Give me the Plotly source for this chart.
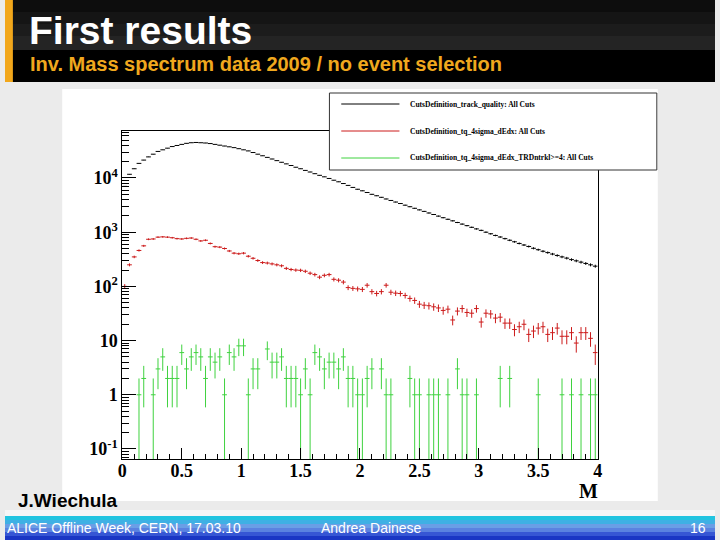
import plotly.graph_objects as go

# ---------------- data ----------------
bin_width = 0.04
bin_centers = [round(0.02 + 0.04 * i, 2) for i in range(100)]

track_quality = [
    7000, 11700, 14800, 18600, 21400, 24500, 27500, 30900, 33100, 35500,
    38000, 39800, 41700, 43600, 44700, 45200, 44700, 44200, 43200, 41700,
    40300, 38900, 37600, 36300, 34700, 33100, 31600, 29500, 27500, 25700,
    24000, 22400, 20900, 19500, 18200, 17000, 15800, 14800, 13800, 12900,
    12000, 11200, 10500, 9800, 9100, 8500, 7900, 7300, 6700, 6200,
    5800, 5400, 5000, 4700, 4400, 4100, 3850, 3600, 3380, 3150,
    2950, 2760, 2580, 2420, 2260, 2120, 1980, 1850, 1730, 1620,
    1510, 1410, 1320, 1230, 1150, 1080, 1000, 935, 870, 815,
    760, 710, 665, 620, 580, 545, 505, 475, 445, 420,
    395, 372, 350, 332, 312, 296, 280, 265, 250, 236,
]

tq_4sigma_dEdx = [
    100, 250, 350, 460, 560, 740, 750, 810, 820, 810,
    790, 760, 750, 770, 780, 740, 690, 710, 620, 540,
    530, 500, 450, 410, 400, 410, 360, 330, 300, 275,
    270, 260, 250, 240, 215, 205, 200, 198, 190, 175,
    165, 148, 160, 165, 135, 130, 120, 95, 92, 90,
    88, 105, 80, 74, 80, 105, 78, 75, 74, 68,
    60, 55, 47, 45, 44, 42, 40, 36, 38, 24,
    35, 39, 33, 32, 39, 22, 32, 31, 26, 27,
    21, 21, 16, 18, 20, 13, 15, 17, 18, 13,
    14, 17, 12, 12, 14, 9, 14, 14, 11, 6,
]

trd_x = [
    0.14, 0.18, 0.26, 0.30, 0.34, 0.38, 0.42, 0.46, 0.50, 0.54,
    0.58, 0.62, 0.66, 0.70, 0.74, 0.78, 0.82, 0.86, 0.90, 0.94,
    0.98, 1.02, 1.06, 1.10, 1.14, 1.22, 1.26, 1.30, 1.34, 1.38,
    1.42, 1.46, 1.50, 1.54, 1.58, 1.62, 1.66, 1.70, 1.74, 1.78,
    1.82, 1.86, 1.90, 1.94, 1.98, 2.02, 2.06, 2.10, 2.18, 2.22,
    2.26, 2.42, 2.46, 2.50, 2.58, 2.62, 2.66, 2.74, 2.82, 2.86,
    2.90, 2.98, 3.18, 3.26, 3.50, 3.70, 3.78, 3.86, 3.94, 3.98,
]
trd_counts = [
    1, 2, 1, 3, 5, 2, 2, 2, 6, 3,
    5, 6, 5, 2, 5, 4, 5, 1, 6, 5,
    8, 8, 1, 3, 3, 7, 4, 4, 5, 2,
    2, 2, 1, 3, 1, 6, 5, 3, 4, 4,
    3, 5, 2, 2, 1, 1, 2, 3, 3, 1,
    1, 2, 1, 1, 1, 1, 1, 1, 3, 1,
    1, 1, 2, 2, 1, 1, 1, 1, 1, 1,
]

legend_labels = [
    "CutsDefinition_track_quality: All Cuts",
    "CutsDefinition_tq_4sigma_dEdx: All Cuts",
    "CutsDefinition_tq_4sigma_dEdx_TRDntrkl>=4: All Cuts",
]
series_colors = ["#000000", "#cc1a1a", "#3fd23f"]

x_tickvals = [0, 0.5, 1, 1.5, 2, 2.5, 3, 3.5, 4]
x_ticktext = ["0", "0.5", "1", "1.5", "2", "2.5", "3", "3.5", "4"]
y_tickvals = [0.1, 1, 10, 100, 1000, 10000]
y_ticktext = ["10<sup>-1</sup>", "1", "10", "10<sup>2</sup>", "10<sup>3</sup>", "10<sup>4</sup>"]

# ---------------- figure ----------------
W, H = 720, 540


def px(x):
    return x / W


def py(y):
    return 1 - y / H


fig = go.Figure()

for xs, ys, col in [
    (bin_centers, track_quality, series_colors[0]),
    (bin_centers, tq_4sigma_dEdx, series_colors[1]),
    (trd_x, trd_counts, series_colors[2]),
]:
    fig.add_trace(go.Scatter(
        x=xs, y=ys, mode="markers",
        marker=dict(size=1, color=col, opacity=0),
        error_x=dict(type="constant", value=bin_width / 2, color=col, thickness=1, width=0),
        error_y=dict(type="sqrt", color=col, thickness=1, width=0),
        showlegend=False, hoverinfo="skip",
    ))

minor_y = [m * 10 ** k for k in range(-2, 5) for m in range(2, 10)]

fig.update_layout(
    width=W, height=H,
    margin=dict(l=0, r=0, t=0, b=0),
    paper_bgcolor="#ebebeb",
    plot_bgcolor="white",
    xaxis=dict(
        domain=[px(119), px(601)], range=[0, 4],
        showgrid=False, zeroline=False,
        showline=True, linecolor="black", linewidth=1, mirror=True,
        ticks="inside", ticklen=11, tickcolor="black", tickwidth=1,
        tickvals=x_tickvals, ticktext=x_ticktext, ticklabelstandoff=-5,
        tickfont=dict(family="Liberation Serif", size=18, color="black", weight="bold"),
        minor=dict(dtick=0.1, ticks="inside", ticklen=5, tickcolor="black", tickwidth=1, showgrid=False),
    ),
    yaxis=dict(
        domain=[py(459), py(131)], type="log", range=[-1.185, 4.867],
        showgrid=False, zeroline=False,
        showline=True, linecolor="black", linewidth=1, mirror=True,
        ticks="inside", ticklen=14, tickcolor="black", tickwidth=1,
        tickvals=y_tickvals, ticktext=y_ticktext,
        tickfont=dict(family="Liberation Serif", size=18, color="black", weight="bold"),
        minor=dict(tickvals=minor_y, ticks="inside", ticklen=7, tickcolor="black", tickwidth=1, showgrid=False),
    ),
)

shapes = []
# white ROOT canvas
shapes.append(dict(type="rect", xref="paper", yref="paper", x0=px(58), x1=px(662), y0=py(501), y1=py(89),
                   fillcolor="white", line=dict(width=0), layer="below"))
# light strip below canvas
shapes.append(dict(type="rect", xref="paper", yref="paper", x0=0, x1=1, y0=py(516), y1=py(510),
                   fillcolor="#f6f6f6", line=dict(width=0), layer="below"))
# header
header_bands = [(0, 12, "#0d0d0d"), (12, 24, "#151515"), (24, 36, "#1c1c1c"), (36, 50, "#242424"), (50, 82, "#000000")]
for y0, y1, c in header_bands:
    shapes.append(dict(type="rect", xref="paper", yref="paper", x0=0, x1=1, y0=py(y1), y1=py(y0),
                       fillcolor=c, line=dict(width=0), layer="above"))
shapes.append(dict(type="rect", xref="paper", yref="paper", x0=0, x1=px(8), y0=py(82), y1=1,
                   fillcolor="#f2a71b", line=dict(width=0), layer="above"))
# footer
footer_bands = [(516, 520, "#22c4e0"), (520, 524, "#3fb0e4"), (524, 528, "#6a9ee6"), (528, 532, "#5a82e0"),
                (532, 536, "#3656d4"), (536, 540, "#1a36c4")]
for y0, y1, c in footer_bands:
    shapes.append(dict(type="rect", xref="paper", yref="paper", x0=0, x1=1, y0=py(y1), y1=py(y0),
                       fillcolor=c, line=dict(width=0), layer="above"))
# legend box
shapes.append(dict(type="rect", xref="paper", yref="paper", x0=px(329), x1=px(661), y0=py(170), y1=py(93),
                   fillcolor="white", line=dict(color="#333333", width=1), layer="above"))
leg_rows = [104, 131, 158]
for yy, c in zip(leg_rows, series_colors):
    shapes.append(dict(type="line", xref="paper", yref="paper", x0=px(341), x1=px(400), y0=py(yy), y1=py(yy),
                       line=dict(color=c, width=1), layer="above"))

annotations = []
for yy, lab in zip(leg_rows, legend_labels):
    annotations.append(dict(xref="paper", yref="paper", x=px(409), y=py(yy), text=lab, showarrow=False,
                            xanchor="left", yanchor="middle",
                            font=dict(family="Liberation Serif", size=7.5, color="black", weight="bold")))

narrow = "Liberation Sans Narrow, Arial Narrow, Liberation Sans, Arial"
annotations += [
    dict(xref="paper", yref="paper", x=px(22), y=py(30), text="First results", showarrow=False,
         xanchor="left", yanchor="middle", font=dict(family=narrow, size=39, color="white", weight="bold")),
    dict(xref="paper", yref="paper", x=px(23), y=py(64), text="Inv. Mass spectrum data 2009 / no event selection",
         showarrow=False, xanchor="left", yanchor="middle",
         font=dict(family=narrow, size=20, color="#f0a81e", weight="bold")),
    dict(xref="paper", yref="paper", x=px(592), y=py(491), text="M", showarrow=False,
         xanchor="center", yanchor="middle",
         font=dict(family="Liberation Serif", size=20, color="black", weight="bold")),
    dict(xref="paper", yref="paper", x=px(11), y=py(500), text="J.Wiechula", showarrow=False,
         xanchor="left", yanchor="middle",
         font=dict(family="Liberation Sans", size=19, color="black", weight="bold")),
    dict(xref="paper", yref="paper", x=px(0), y=py(528), text="ALICE Offline Week, CERN, 17.03.10", showarrow=False,
         xanchor="left", yanchor="middle", font=dict(family="Liberation Sans", size=14, color="white")),
    dict(xref="paper", yref="paper", x=px(318), y=py(528), text="Andrea Dainese", showarrow=False,
         xanchor="left", yanchor="middle", font=dict(family="Liberation Sans", size=14, color="white")),
    dict(xref="paper", yref="paper", x=px(713), y=py(528), text="16", showarrow=False,
         xanchor="right", yanchor="middle", font=dict(family="Liberation Sans", size=14, color="white")),
]

fig.update_layout(shapes=shapes, annotations=annotations)
fig.write_html("out.html",
               config={"displayModeBar": False},
               post_script="document.body.style.margin='0';document.body.style.padding='0';"
                           "document.documentElement.style.overflow='hidden';")
